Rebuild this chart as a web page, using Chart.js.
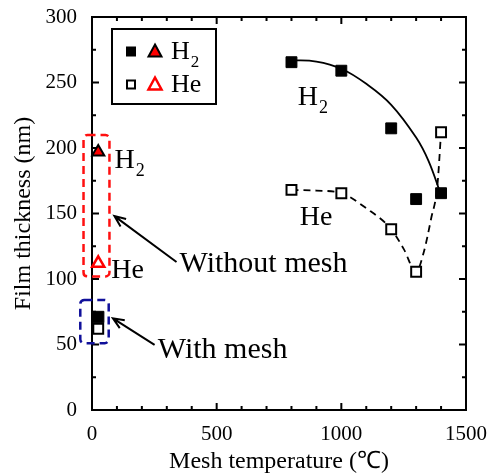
<!DOCTYPE html>
<html>
<head>
<meta charset="utf-8">
<script src="https://cdn.jsdelivr.net/npm/chart.js@4.4.0/dist/chart.umd.min.js"></script>
<style>
  html, body { margin: 0; padding: 0; background: #fff; }
  #wrap { width: 490px; height: 474px; }
</style>
</head>
<body>
<div id="wrap"><canvas id="film"></canvas></div>
<script>
// measured points (mesh heated)
var meshTemps = [800, 1000, 1200, 1300, 1400];
var h2Thickness = [265.5, 259, 215, 161, 165.5];
var heThickness = [168, 165.5, 138, 105.5, 212];

// guide curves as drawn in the figure
var h2CurveTemps = [800, 900, 1000, 1100, 1200, 1300, 1350, 1400];
var h2CurveThickness = [267, 266, 260.5, 249, 233, 208, 190, 164];
var heCurveTemps = [800, 900, 1000, 1100, 1200, 1250, 1300, 1330, 1360, 1385, 1400];
var heCurveThickness = [168, 167.5, 165.5, 154, 138, 123, 105.5, 120, 146, 171, 212];

// room temperature runs
var roomTemp = [25];
var withMeshH2 = [71];
var withMeshHe = [62];
var withoutMeshH2 = [197];
var withoutMeshHe = [112];

var xTicks = [0, 500, 1000, 1500];
var yTicks = [0, 50, 100, 150, 200, 250, 300];

var SERIF = '"Liberation Serif", "Times New Roman", serif';
Chart.defaults.font.family = SERIF;
Chart.defaults.color = '#000';

function zip(xs, ys) {
  return xs.map(function(x, i) { return { x: x, y: ys[i] }; });
}

// text annotations, anchored in data units
var notes = [
  { text: 'H', sub: '2', x: 825, y: 233 },
  { text: 'He', x: 833, y: 141 },
  { text: 'H', sub: '2', x: 90, y: 185 },
  { text: 'He', x: 77, y: 101 },
  { text: 'Without mesh', x: 351, y: 105.7 },
  { text: 'With mesh', x: 264, y: 39.5 }
];
var arrows = [
  { from: [339, 113], to: [90, 148] },
  { from: [251, 49.7], to: [84, 70] }
];
var boxes = [
  { x0: -34, x1: 70, y0: 102, y1: 210, color: '#ff1010' },
  { x0: -47, x1: 67, y0: 51, y1: 84, color: '#10109a' }
];

function P(chart, x, y) {
  return [chart.scales.x.getPixelForValue(x), chart.scales.y.getPixelForValue(y)];
}

function drawText(ctx, t, x, y, size) {
  ctx.font = size + 'px ' + SERIF;
  ctx.fillText(t.text, x, y);
  if (t.sub) {
    var w = ctx.measureText(t.text).width;
    ctx.font = Math.round(size * 0.66) + 'px ' + SERIF;
    ctx.fillText(t.sub, x + w + 1, y + 8);
  }
}

var framePlugin = {
  id: 'frame',
  beforeDatasetsDraw: function(chart) {
    var ctx = chart.ctx, a = chart.chartArea;
    var xs = chart.scales.x, ys = chart.scales.y;
    ctx.save();
    ctx.strokeStyle = '#000';
    ctx.lineWidth = 2;
    ctx.strokeRect(a.left, a.top, a.right - a.left, a.bottom - a.top);
    ctx.beginPath();
    for (var v = 0; v <= 1500; v += 100) {
      var len = v % 500 === 0 ? 7 : 4;
      var x = xs.getPixelForValue(v);
      ctx.moveTo(x, a.bottom); ctx.lineTo(x, a.bottom - len);
      ctx.moveTo(x, a.top); ctx.lineTo(x, a.top + len);
    }
    for (var w = 0; w <= 300; w += 25) {
      var l2 = w % 50 === 0 ? 7 : 4;
      var y = ys.getPixelForValue(w);
      ctx.moveTo(a.left, y); ctx.lineTo(a.left + l2, y);
      ctx.moveTo(a.right, y); ctx.lineTo(a.right - l2, y);
    }
    ctx.stroke();

    // dashed boxes around the room-temperature points
    ctx.lineWidth = 2.5;
    ctx.setLineDash([8, 5]);
    boxes.forEach(function(b) {
      var p0 = P(chart, b.x0, b.y1), p1 = P(chart, b.x1, b.y0);
      ctx.strokeStyle = b.color;
      ctx.beginPath();
      ctx.roundRect(p0[0], p0[1], p1[0] - p0[0], p1[1] - p0[1], 4);
      ctx.stroke();
    });
    ctx.restore();
  },
  afterDraw: function(chart) {
    var ctx = chart.ctx, a = chart.chartArea;
    ctx.save();
    ctx.fillStyle = '#000';
    ctx.textBaseline = 'alphabetic';
    ctx.textAlign = 'left';
    notes.forEach(function(t) {
      var p = P(chart, t.x, t.y);
      drawText(ctx, t, p[0], p[1], t.sub || t.text === 'He' ? 28 : 30);
    });

    ctx.strokeStyle = '#000';
    ctx.lineWidth = 2;
    arrows.forEach(function(ar) {
      var f = P(chart, ar.from[0], ar.from[1]), t = P(chart, ar.to[0], ar.to[1]);
      var ang = Math.atan2(t[1] - f[1], t[0] - f[0]);
      ctx.beginPath();
      ctx.moveTo(f[0], f[1]); ctx.lineTo(t[0], t[1]);
      ctx.moveTo(t[0] - 12 * Math.cos(ang - 0.4), t[1] - 12 * Math.sin(ang - 0.4));
      ctx.lineTo(t[0], t[1]);
      ctx.lineTo(t[0] - 12 * Math.cos(ang + 0.4), t[1] - 12 * Math.sin(ang + 0.4));
      ctx.stroke();
    });

    // legend box
    var lx = a.left + 20, ly = a.top + 12, lw = 104, lh = 75;
    ctx.lineWidth = 2;
    ctx.strokeRect(lx, ly, lw, lh);
    var rows = [
      { y: ly + 22.5, filled: true, t: { text: 'H', sub: '2' } },
      { y: ly + 55.5, filled: false, t: { text: 'He' } }
    ];
    rows.forEach(function(r) {
      var sx = lx + 19, tx = lx + 43;
      if (r.filled) {
        ctx.fillStyle = '#000';
        ctx.fillRect(sx - 5, r.y - 5, 10, 10);
      } else {
        ctx.fillStyle = '#fff';
        ctx.fillRect(sx - 4, r.y - 4, 8, 8);
        ctx.strokeRect(sx - 4, r.y - 4, 8, 8);
      }
      ctx.beginPath();
      ctx.moveTo(tx, r.y - 7);
      ctx.lineTo(tx + 6.5, r.y + 5);
      ctx.lineTo(tx - 6.5, r.y + 5);
      ctx.closePath();
      if (r.filled) {
        ctx.fillStyle = '#ff0000'; ctx.fill();
        ctx.strokeStyle = '#000'; ctx.stroke();
      } else {
        ctx.fillStyle = '#fff'; ctx.fill();
        ctx.strokeStyle = '#ff0000'; ctx.lineWidth = 2.5; ctx.stroke();
        ctx.lineWidth = 2;
      }
      ctx.strokeStyle = '#000';
      ctx.fillStyle = '#000';
      drawText(ctx, r.t, lx + 59, r.y + 7, 26);
    });
    ctx.restore();
  }
};

function noPad(s) {
  s.paddingTop = 0; s.paddingBottom = 0;
  s.paddingLeft = 0; s.paddingRight = 0;
}

new Chart(document.getElementById('film'), {
  type: 'scatter',
  data: {
    datasets: [
      {
        label: 'H2 without mesh',
        data: zip(roomTemp, withoutMeshH2),
        pointStyle: 'triangle', pointRadius: 7,
        backgroundColor: '#ff0000', borderColor: '#000', borderWidth: 2,
        clip: false
      },
      {
        label: 'He without mesh',
        data: zip(roomTemp, withoutMeshHe),
        pointStyle: 'triangle', pointRadius: 7,
        backgroundColor: '#fff', borderColor: '#ff0000', borderWidth: 2.5,
        clip: false
      },
      {
        label: 'H2 with mesh',
        data: zip(roomTemp, withMeshH2),
        pointStyle: 'rect', pointRadius: 8,
        backgroundColor: '#000', borderColor: '#000', borderWidth: 1,
        clip: false
      },
      {
        label: 'He with mesh',
        data: zip(roomTemp, withMeshHe),
        pointStyle: 'rect', pointRadius: 7,
        backgroundColor: '#fff', borderColor: '#000', borderWidth: 2,
        clip: false
      },
      {
        label: 'H2',
        data: zip(meshTemps, h2Thickness),
        pointStyle: 'rect', pointRadius: 7.7,
        backgroundColor: '#000', borderColor: '#000', borderWidth: 1
      },
      {
        label: 'He',
        data: zip(meshTemps, heThickness),
        pointStyle: 'rect', pointRadius: 7,
        backgroundColor: '#fff', borderColor: '#000', borderWidth: 2
      },
      {
        label: 'H2 curve',
        data: zip(h2CurveTemps, h2CurveThickness),
        showLine: true, pointRadius: 0,
        borderColor: '#000', borderWidth: 1.8,
        tension: 0.4
      },
      {
        label: 'He curve',
        data: zip(heCurveTemps, heCurveThickness),
        showLine: true, pointRadius: 0,
        borderColor: '#000', borderWidth: 1.8, borderDash: [7, 5],
        cubicInterpolationMode: 'monotone'
      }
    ]
  },
  options: {
    responsive: true,
    maintainAspectRatio: false,
    animation: false,
    layout: { padding: { top: 17, right: 24, left: 0, bottom: 0 } },
    plugins: { legend: { display: false }, tooltip: { enabled: false } },
    scales: {
      x: {
        type: 'linear', min: 0, max: 1500,
        afterBuildTicks: function(s) { s.ticks = xTicks.map(function(v) { return { value: v }; }); },
        afterFit: function(s) { s.height = 64; noPad(s); },
        grid: { display: false, drawTicks: false },
        border: { display: false },
        ticks: {
          font: { size: 21 }, color: '#000', padding: 12, maxRotation: 0,
          callback: function(v) { return String(v); }
        },
        title: { display: true, text: 'Mesh temperature (\u2103)', font: { size: 24, lineHeight: 1 }, color: '#000', padding: { top: 0, bottom: 0 } }
      },
      y: {
        type: 'linear', min: 0, max: 300,
        afterBuildTicks: function(s) { s.ticks = yTicks.map(function(v) { return { value: v }; }); },
        afterFit: function(s) { s.width = 92; noPad(s); },
        grid: { display: false, drawTicks: false },
        border: { display: false },
        ticks: {
          font: { size: 21 }, color: '#000', padding: 15,
          callback: function(v) { return String(v); }
        },
        title: { display: true, text: 'Film thickness (nm)', font: { size: 24 }, color: '#000', padding: { top: 9, bottom: 0 } }
      }
    }
  },
  plugins: [framePlugin]
});
</script>
</body>
</html>
